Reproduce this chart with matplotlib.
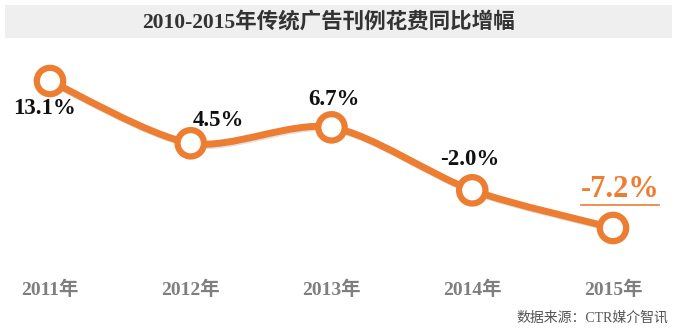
import numpy as np
import matplotlib.pyplot as plt
import matplotlib.patheffects as pe
from matplotlib.path import Path
from matplotlib.patches import PathPatch, Rectangle
from matplotlib.lines import Line2D

years = ['2011年', '2012年', '2013年', '2014年', '2015年']
growth = [13.1, 4.5, 6.7, -2.0, -7.2]
labels = ['13.1%', '4.5%', '6.7%', '-2.0%', '-7.2%']
# label offsets in pixels relative to each point
offsets = [(-6, -27), (28, 23), (2, 28), (-3, 31), (7, 38)]

title = '2010-2015年传统广告刊例花费同比增幅'
source = '数据来源：CTR媒介智讯'

orange = '#ED7D31'
fam = ['Liberation Serif', 'Noto Sans CJK SC']

W, H, dpi = 678, 335, 100
fig = plt.figure(figsize=(W / dpi, H / dpi), dpi=dpi)
fig.patch.set_facecolor('white')

# title bar
fig.patches.append(Rectangle((5 / W, 1 - 38 / H), 667 / W, 33 / H,
                             transform=fig.transFigure, facecolor='#efefef',
                             edgecolor='none', zorder=0))
fig.text(328 / W, 1 - 22 / H, title, ha='center', va='center', fontsize=15.5,
         fontweight='bold', color='#333333', family=fam)

ax = fig.add_axes([0, 0, 1, 1])
ax.set_facecolor('none')
ax.axis('off')
ax.set_xlim(-50 / 140.75, (W - 50) / 140.75)
ax.set_ylim(13.1 - (H - 81) / 7.24, 13.1 + 81 / 7.24)

x = np.arange(len(growth))
y = np.array(growth)

# smooth curve (Catmull-Rom style Bezier through the points)
pts = np.column_stack([x, y])
verts = [pts[0]]
codes = [Path.MOVETO]
for i in range(len(pts) - 1):
    p0 = pts[max(i - 1, 0)]
    p1 = pts[i]
    p2 = pts[i + 1]
    p3 = pts[min(i + 2, len(pts) - 1)]
    c1 = p1 + (p2 - p0) / 7
    c2 = p2 - (p3 - p1) / 7
    verts += [c1, c2, p2]
    codes += [Path.CURVE4] * 3
curve = PathPatch(Path(verts, codes), facecolor='none', edgecolor=orange,
                  linewidth=5, capstyle='round', zorder=2,
                  path_effects=[pe.SimpleLineShadow(offset=(1, -1), alpha=0.12),
                                pe.Normal()])
ax.add_patch(curve)

ax.plot(x, y, 'o', markersize=19, markerfacecolor='white',
        markeredgecolor=orange, markeredgewidth=4.5, zorder=3,
        path_effects=[pe.SimplePatchShadow(offset=(1.5, -1.5), alpha=0.15), pe.Normal()])

texts = []
for i, (xi, yi) in enumerate(zip(x, y)):
    last = i == len(y) - 1
    t = ax.annotate(labels[i], (xi, yi), xytext=offsets[i], textcoords='offset pixels',
                    ha='center', va='center', fontsize=22 if last else 16.5,
                    fontweight='bold', color=orange if last else '#111111',
                    family=fam, zorder=4)
    texts.append(t)

for xi, yr in zip(x, years):
    ax.text(xi, 1 - 290 / H, yr, transform=ax.get_xaxis_transform(),
            ha='center', va='center', fontsize=14, fontweight='bold',
            color='#7f7f7f', family=fam)

fig.text(668 / W, 1 - 318 / H, source, ha='right', va='center', fontsize=10,
         color='#555555', family=fam)

# underline the highlighted last value
fig.canvas.draw()
bb = texts[-1].get_window_extent()
fig.add_artist(Line2D([bb.x0, bb.x1], [bb.y0 - 1, bb.y0 - 1], transform=None,
                      color=orange, linewidth=1.2))

fig.savefig('out.png', dpi=dpi)
